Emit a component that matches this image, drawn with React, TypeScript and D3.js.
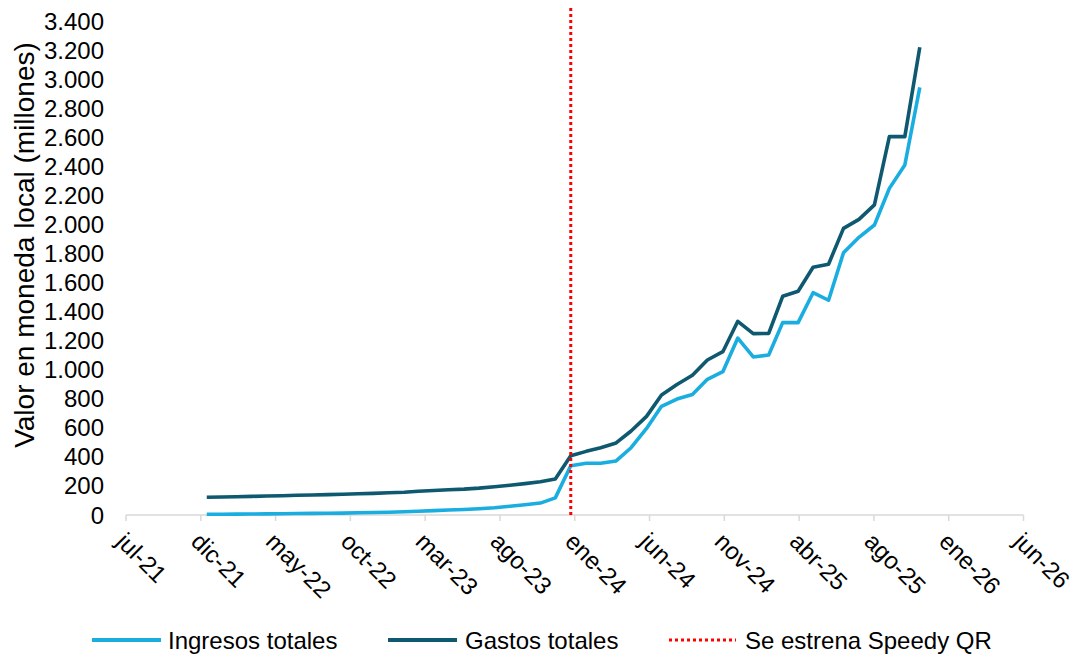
import React from "react";
import * as d3 from "d3";

// Month-end observation periods (YYYY-MM)
const periods = [
  "2021-12", "2022-01", "2022-02", "2022-03", "2022-04", "2022-05", "2022-06", "2022-07",
  "2022-08", "2022-09", "2022-10", "2022-11", "2022-12", "2023-01", "2023-02", "2023-03",
  "2023-04", "2023-05", "2023-06", "2023-07", "2023-08", "2023-09", "2023-10", "2023-11",
  "2023-12", "2024-01", "2024-02", "2024-03", "2024-04", "2024-05", "2024-06", "2024-07",
  "2024-08", "2024-09", "2024-10", "2024-11", "2024-12", "2025-01", "2025-02", "2025-03",
  "2025-04", "2025-05", "2025-06", "2025-07", "2025-08", "2025-09", "2025-10", "2025-11",
];

// Ingresos totales (millones, moneda local)
const ingresos = [
  5, 5, 6, 7, 8, 9, 10, 11, 12, 13, 15, 17,
  19, 22, 26, 30, 34, 38, 43, 50, 60, 70, 82, 118,
  339, 356, 356, 372, 463, 596, 748, 798, 830, 934, 986, 1218,
  1088, 1101, 1324, 1324, 1530, 1478, 1805, 1911, 1996, 2248, 2409, 2943,
];

// Gastos totales (millones, moneda local)
const gastos = [
  122, 124, 126, 128, 131, 133, 136, 138, 140, 143, 146, 149,
  153, 157, 163, 169, 174, 178, 185, 195, 205, 216, 229, 248,
  408, 438, 463, 496, 578, 679, 826, 898, 962, 1067, 1124, 1333,
  1248, 1250, 1505, 1540, 1705, 1726, 1973, 2035, 2134, 2604, 2604, 3219,
];

// Launch of Speedy QR
const launchPeriod = "2023-12";

const yTicks = [0, 200, 400, 600, 800, 1000, 1200, 1400, 1600, 1800, 2000, 2200, 2400, 2600, 2800, 3000, 3200, 3400];
const xTickLabels = ["jul-21", "dic-21", "may-22", "oct-22", "mar-23", "ago-23", "ene-24", "jun-24", "nov-24", "abr-25", "ago-25", "ene-26", "jun-26"];

const axisStart = Date.UTC(2021, 6, 22);
const tickStepDays = 150;
const DAY = 86400000;

const monthEnd = (p: string) => {
  const [y, m] = p.split("-").map(Number);
  return new Date(Date.UTC(y, m, 0));
};

const fmt = (v: number) => d3.format(",")(v).replace(/,/g, ".");

const FONT = "'Liberation Sans', Arial, sans-serif";
const LIGHT = "#1AADE0";
const DARK = "#0E5870";
const RED = "#FF0000";

export default function App() {
  const width = 1073;
  const height = 658;
  const left = 126;
  const right = 1023.5;
  const top = 21;
  const bottom = 515;

  const tickDates = xTickLabels.map((_, i) => new Date(axisStart + i * tickStepDays * DAY));
  const x = d3
    .scaleUtc()
    .domain([tickDates[0], tickDates[tickDates.length - 1]])
    .range([left, right]);
  const y = d3.scaleLinear().domain([0, 3400]).range([bottom, top]);

  const dates = periods.map(monthEnd);
  const line = d3
    .line<number>()
    .x((_, i) => x(dates[i]))
    .y((d) => y(d));

  const launchX = x(monthEnd(launchPeriod));

  const legendY = 640;
  const legendItems = [
    { label: "Ingresos totales", color: LIGHT, x0: 92, x1: 161, tx: 168, dash: undefined as string | undefined },
    { label: "Gastos totales", color: DARK, x0: 388, x1: 457, tx: 465, dash: undefined },
    { label: "Se estrena Speedy QR", color: RED, x0: 669, x1: 736, tx: 745, dash: "3,3" },
  ];

  return (
    <svg
      width={width}
      height={height}
      style={{ position: "absolute", left: 0, top: 0, background: "#fff" }}
      fontFamily={FONT}
    >
      {/* y tick labels */}
      {yTicks.map((t) => (
        <text key={t} x={104} y={y(t)} textAnchor="end" dominantBaseline="central" fontSize={24} fill="#000">
          {fmt(t)}
        </text>
      ))}

      {/* y axis title */}
      <text
        transform={`translate(24,${245}) rotate(-90)`}
        textAnchor="middle"
        dominantBaseline="central"
        fontSize={28}
        fill="#000"
      >
        Valor en moneda local (millones)
      </text>

      {/* x axis */}
      <line x1={left} x2={right} y1={bottom} y2={bottom} stroke="#d9d9d9" strokeWidth={1.5} />
      {tickDates.map((d, i) => (
        <g key={i}>
          <line x1={x(d)} x2={x(d)} y1={bottom} y2={bottom + 6} stroke="#d9d9d9" strokeWidth={1.5} />
          <text
            transform={`translate(${x(d) - 11},${543}) rotate(45)`}
            fontSize={24}
            fill="#000"
          >
            {xTickLabels[i]}
          </text>
        </g>
      ))}

      {/* series */}
      <path d={line(ingresos) ?? ""} fill="none" stroke={LIGHT} strokeWidth={3.6} strokeLinejoin="round" />
      <path d={line(gastos) ?? ""} fill="none" stroke={DARK} strokeWidth={3.6} strokeLinejoin="round" />

      {/* launch marker */}
      <line
        x1={launchX}
        x2={launchX}
        y1={y(0)}
        y2={y(3500)}
        stroke={RED}
        strokeWidth={3}
        strokeDasharray="3,3"
      />

      {/* legend */}
      {legendItems.map((it) => (
        <g key={it.label}>
          <line
            x1={it.x0}
            x2={it.x1}
            y1={legendY}
            y2={legendY}
            stroke={it.color}
            strokeWidth={it.dash ? 3 : 4}
            strokeDasharray={it.dash}
          />
          <text x={it.tx} y={legendY} dominantBaseline="central" fontSize={24} fill="#000">
            {it.label}
          </text>
        </g>
      ))}
    </svg>
  );
}
